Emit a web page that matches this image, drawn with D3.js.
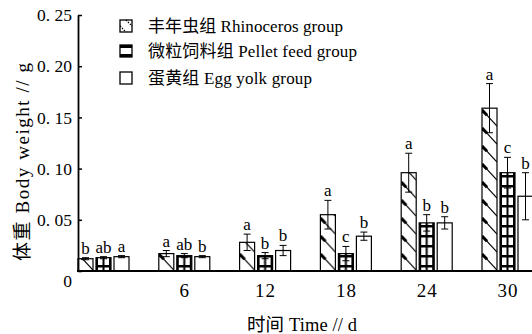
<!DOCTYPE html>
<html>
<head>
<meta charset="utf-8">
<script src="https://cdn.jsdelivr.net/npm/d3@7/dist/d3.min.js"></script>
<style>
  body { margin: 0; background: #fff; }
  text { font-family: "Liberation Serif", "Noto Sans CJK SC", serif; fill: #000; }
</style>
</head>
<body>
<div id="chart"></div>
<script>
// data (mean, error, significance letter)
const days = [0, 6, 12, 18, 24, 30];
const xTicks = [6, 12, 18, 24, 30];
const yTicks = [0, 0.05, 0.10, 0.15, 0.20, 0.25];
const groupNames = ["丰年虫组 Rhinoceros group", "微粒饲料组 Pellet feed group", "蛋黄组 Egg yolk group"];

const rhino    = [0.012, 0.017, 0.028, 0.055, 0.096, 0.159];
const rhinoErr = [0.001, 0.003, 0.008, 0.014, 0.019, 0.024];
const rhinoSig = ["b", "a", "a", "a", "a", "a"];

const pellet    = [0.013, 0.015, 0.015, 0.017, 0.047, 0.096];
const pelletErr = [0.001, 0.002, 0.003, 0.007, 0.008, 0.015];
const pelletSig = ["ab", "ab", "b", "c", "b", "c"];

const yolk    = [0.014, 0.014, 0.020, 0.034, 0.047, 0.073];
const yolkErr = [0.001, 0.001, 0.005, 0.004, 0.006, 0.023];
const yolkSig = ["a", "b", "b", "b", "b", "b"];

const W = 532, H = 334;
const axisX = 78, base = 271, yTop = 15;
const barW = 15, barStep = 18;

const svg = d3.select("#chart").append("svg")
  .attr("width", W).attr("height", H);

const defs = svg.append("defs");

// rhinoceros: white with stepped diagonal strokes
const pR = defs.append("pattern").attr("id", "pR")
  .attr("patternUnits", "userSpaceOnUse").attr("width", 15).attr("height", 18);
pR.append("rect").attr("width", 15).attr("height", 18).attr("fill", "#fff");
pR.append("path").attr("d", "M0,1 L15,17").attr("stroke", "#000").attr("stroke-width", 1.1);
pR.append("path").attr("d", "M0,1 L5,6.3").attr("stroke", "#000").attr("stroke-width", 3);

// pellet: black bands with white H cells
const pP = defs.append("pattern").attr("id", "pP")
  .attr("patternUnits", "userSpaceOnUse").attr("width", 15).attr("height", 10);
pP.append("rect").attr("width", 15).attr("height", 10).attr("fill", "#fff");
pP.append("rect").attr("y", 4).attr("width", 15).attr("height", 2.5).attr("fill", "#000");
pP.append("rect").attr("x", 6.5).attr("width", 2).attr("height", 10).attr("fill", "#000");
pP.append("rect").attr("x", 0).attr("width", 2).attr("height", 10).attr("fill", "#000");
pP.append("rect").attr("x", 13).attr("width", 2).attr("height", 10).attr("fill", "#000");

const fills = ["url(#pR)", "url(#pP)", "#fff"];

const x = d3.scaleLinear().domain([0, 30]).range([103.5, 507.5]);
const y = d3.scaleLinear().domain([0, 0.25]).range([base, yTop]);

const series = [
  {vals: rhino, err: rhinoErr, sig: rhinoSig},
  {vals: pellet, err: pelletErr, sig: pelletSig},
  {vals: yolk, err: yolkErr, sig: yolkSig}
];

const rows = [];
series.forEach((s, si) => {
  days.forEach((d, i) => {
    rows.push({si: si, day: d, v: s.vals[i], e: s.err[i], sig: s.sig[i]});
  });
});

const bars = svg.append("g").selectAll("g")
  .data(rows).enter().append("g")
  .attr("transform", d => `translate(${x(d.day) + (d.si - 1) * barStep - barW / 2},${base})`);

bars.append("rect")
  .attr("x", 0)
  .attr("y", d => y(d.v) - base)
  .attr("width", barW)
  .attr("height", d => base - y(d.v))
  .attr("fill", d => fills[d.si])
  .attr("stroke", "#000")
  .attr("stroke-width", 1.2);

// error bars
const cap = 3.5;
bars.append("path")
  .attr("d", d => {
    const cx = barW / 2, y1 = y(d.v + d.e) - base, y0 = y(d.v - d.e) - base;
    return `M${cx},${y0}V${y1}M${cx - cap},${y1}H${cx + cap}M${cx - cap},${y0}H${cx + cap}`;
  })
  .attr("stroke", "#000").attr("stroke-width", 1).attr("fill", "none");

bars.append("text")
  .attr("x", barW / 2)
  .attr("y", d => y(d.v + d.e) - base - 4)
  .attr("text-anchor", "middle")
  .attr("font-size", 17)
  .text(d => d.sig);

// y axis, ticks pointing inward
const yAxis = svg.append("g")
  .attr("transform", `translate(${axisX},0)`)
  .call(d3.axisLeft(y).tickValues(yTicks).tickSize(-4).tickSizeOuter(0).tickPadding(6)
    .tickFormat(d => d === 0 ? "0" : d3.format(".2f")(d).replace(".", ". ")));
yAxis.select(".domain").attr("stroke-width", 1.8);
yAxis.selectAll(".tick line").attr("stroke-width", 1.5);
yAxis.selectAll(".tick text").attr("font-size", 17.5).attr("font-family", null)
  .attr("dy", d => d === 0 ? "0.9em" : "0.32em");

// x axis
svg.append("line")
  .attr("x1", axisX - 1).attr("x2", W).attr("y1", base).attr("y2", base)
  .attr("stroke", "#000").attr("stroke-width", 2);
const xAxis = svg.append("g")
  .attr("transform", `translate(0,${base})`)
  .call(d3.axisBottom(x).tickValues(xTicks).tickSize(0).tickPadding(13));
xAxis.select(".domain").remove();
xAxis.selectAll(".tick text").attr("font-size", 19).attr("font-family", null)
  .attr("letter-spacing", 1);

// axis titles
svg.append("text")
  .attr("transform", "translate(29,162) rotate(-90)")
  .attr("text-anchor", "middle")
  .attr("font-size", 19)
  .attr("textLength", 198).attr("lengthAdjust", "spacing")
  .text("体重 Body weight // g");

svg.append("text")
  .attr("x", 302).attr("y", 331)
  .attr("text-anchor", "middle")
  .attr("font-size", 18.5)
  .attr("textLength", 110).attr("lengthAdjust", "spacing")
  .text("时间 Time // d");

// legend
const legY = [26, 51, 78];
const legLen = [195, 209, 164];
const leg = svg.append("g").selectAll("g")
  .data(groupNames).enter().append("g")
  .attr("transform", (d, i) => `translate(120,${legY[i] - 6})`);
leg.append("rect")
  .attr("width", 12).attr("height", 12)
  .attr("fill", "#fff")
  .attr("stroke", "#000").attr("stroke-width", 1.3);
// legend swatch details
leg.filter((d, i) => i === 0).append("path")
  .attr("d", "M6,0 L12,6 M0,6 L6,12")
  .attr("stroke", "#000").attr("stroke-width", 1.2).attr("stroke-dasharray", "1.5,1.2").attr("fill", "none");
leg.filter((d, i) => i === 1).selectAll("rect.band")
  .data([0, 9]).enter().append("rect").attr("class", "band")
  .attr("x", 0).attr("y", d => d).attr("width", 12).attr("height", 3).attr("fill", "#000");
leg.append("text")
  .attr("x", 28).attr("y", 6).attr("dy", "0.35em")
  .attr("font-size", 17)
  .attr("textLength", (d, i) => legLen[i]).attr("lengthAdjust", "spacing")
  .text(d => d);
</script>
</body>
</html>
